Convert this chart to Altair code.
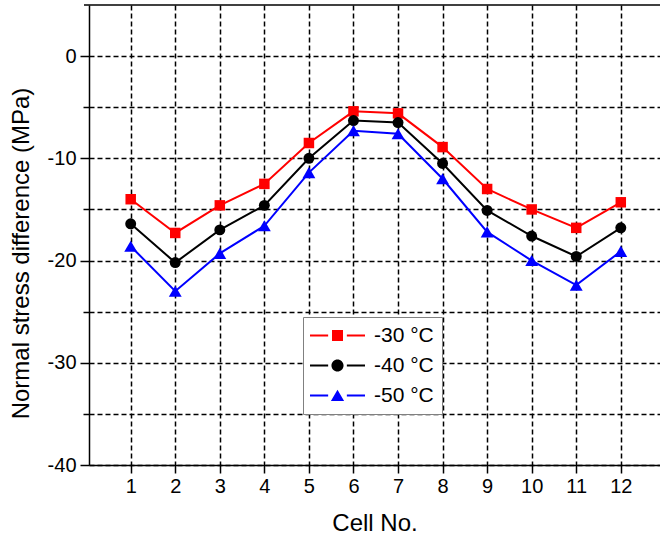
import altair as alt
import pandas as pd

cells = list(range(1, 13))
series_names = ["-30 °C", "-40 °C", "-50 °C"]
v30 = [-14.0, -17.3, -14.6, -12.5, -8.5, -5.4, -5.6, -8.9, -13.0, -15.0, -16.8, -14.3]
v40 = [-16.4, -20.2, -17.0, -14.6, -10.0, -6.3, -6.5, -10.5, -15.1, -17.6, -19.6, -16.8]
v50 = [-18.6, -23.0, -19.3, -16.6, -11.4, -7.3, -7.6, -12.0, -17.2, -20.0, -22.4, -19.1]
y_ticks = [-40, -35, -30, -25, -20, -15, -10, -5, 0]

colors = ["#ff0000", "#000000", "#0000ff"]
marker_shapes = ["square", "circle", "triangle-up"]
marker_sizes = [110, 120, 165]

# legend symbols: line - marker - line (custom paths)
seg = "M-5,-0.18H-1.7V0.18H-5Z M1.7,-0.18H5V0.18H1.7Z "
legend_paths = [
    seg + "M-1,-1H1V1H-1Z",
    seg + "M1.1,0A1.1,1.1 0 1,1 -1.1,0A1.1,1.1 0 1,1 1.1,0Z",
    seg + "M0,-1.05L1.2,1L-1.2,1Z",
]

rows = []
for name, vals in zip(series_names, [v30, v40, v50]):
    for c, v in zip(cells, vals):
        rows.append({"cell": c, "value": v, "series": name})
df = pd.DataFrame(rows)

W, H = 571, 460
FONT = "Liberation Sans"

x_enc = alt.X(
    "cell:Q",
    scale=alt.Scale(domain=[0.064, 12.88], nice=False, zero=False),
    axis=alt.Axis(
        values=cells, title="Cell No.", tickSize=8, tickWidth=1.5, tickColor="black",
        domainColor="black", domainWidth=1.5, labelFontSize=20, labelFont=FONT,
        labelColor="black", labelPadding=3, labelFlush=False, labelOverlap=False,
        grid=True, gridColor="black", gridDash=[5, 3], gridWidth=1.5, gridOpacity=1,
        titleFont=FONT, titleFontSize=24, titleFontWeight="normal", titleColor="black",
        titleX=W / 2, titleY=58, titleBaseline="middle", titleAlign="center",
    ),
)
y_enc = alt.Y(
    "value:Q",
    scale=alt.Scale(domain=[-40, 5], nice=False, zero=False),
    axis=alt.Axis(
        values=y_ticks, title="Normal stress difference (MPa)",
        labelExpr="datum.value % 10 === 0 ? toString(datum.value) : ''",
        tickSize={"condition": {"test": "datum.value % 10 === 0", "value": 9}, "value": 6},
        tickWidth=1.5, tickColor="black",
        domainColor="black", domainWidth=1.5, labelFontSize=20, labelFont=FONT,
        labelColor="black", labelPadding=4, labelFlush=False, labelOverlap=False,
        grid=True, gridColor="black", gridDash=[5, 3], gridWidth=1.5, gridOpacity=1,
        titleFont=FONT, titleFontSize=24, titleFontWeight="normal", titleColor="black",
        titleX=-68, titleY=248, titleBaseline="middle", titleAlign="center", titleAngle=-90,
    ),
)
# data-driven domain (sorted names) so it does not merge with the legend scales
color_enc = alt.Color("series:N", scale=alt.Scale(range=colors), legend=None)

base = alt.Chart(df)
lines = base.mark_line(strokeWidth=2).encode(x=x_enc, y=y_enc, color=color_enc)

point_layers = []
for name, shp, sz in zip(series_names, marker_shapes, marker_sizes):
    point_layers.append(
        base.transform_filter(alt.datum.series == name)
        .mark_point(filled=True, opacity=1, shape=shp, size=sz)
        .encode(x=x_enc, y=y_enc, color=color_enc)
    )

legend_props = dict(
    title=None, orient="none", legendX=214, legendY=312,
    fillColor="white", strokeColor="#808080", padding=8,
    symbolSize=121, symbolStrokeWidth=0, symbolOffset=16, labelOffset=26,
    labelFont=FONT, labelFontSize=21, labelColor="black", rowPadding=8,
    cornerRadius=0, symbolOpacity=1,
)

legend_layer = (
    base.transform_filter("false")
    .mark_point(filled=True, opacity=1)
    .encode(
        x=x_enc, y=y_enc,
        fill=alt.Fill("series:N", scale=alt.Scale(domain=series_names, range=colors),
                      legend=alt.Legend(**legend_props)),
        shape=alt.Shape("series:N", scale=alt.Scale(domain=series_names, range=legend_paths),
                        legend=alt.Legend(**legend_props)),
    )
)

frame = alt.Chart(alt.Data(values=[{}])).mark_rule(color="black", strokeWidth=1.5).encode(
    x=alt.value(-5), x2=alt.value(W), y=alt.value(0)
)

chart = (
    alt.layer(lines, *point_layers, legend_layer, frame)
    .properties(
        width=W, height=H,
        autosize=alt.AutoSizeParams(type="none"),
        padding={"left": 89, "top": 5, "right": 0, "bottom": 74},
        background="white",
    )
    .configure_view(stroke=None)
)

chart.save("out.html", embed_options={"renderer": "svg", "actions": False})
